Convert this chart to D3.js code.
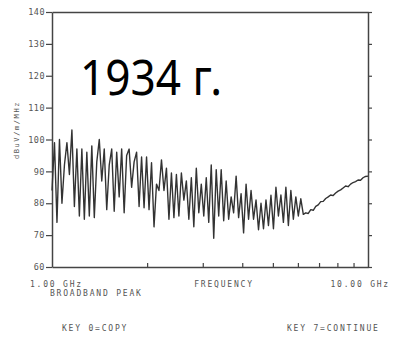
<!DOCTYPE html>
<html>
<head>
<meta charset="utf-8">
<script src="https://cdn.jsdelivr.net/npm/d3@7"></script>
<style>
  html, body { margin: 0; padding: 0; background: #fff; }
  svg { display: block; }
  .lbl { font-family: "DejaVu Sans Mono", monospace; fill: #555; }
</style>
</head>
<body>
<div id="chart"></div>
<script>
// display limits of the analyser screen
const freqRange = [1, 10];          // GHz, log axis
const levelRange = [60, 140];       // dBuV/m/MHz
const levelTicks = [60, 70, 80, 90, 100, 110, 120, 130, 140];
const freqTicks = [2, 3, 4, 5, 6, 7, 8, 9];

// broadband peak trace, one reading per sweep point
const level = [
  84, 99, 74, 100, 80, 92, 99, 89, 103, 79,
  97, 76, 97, 75, 96, 76, 98, 75.5, 93, 100,
  87, 97, 78, 92, 97, 77.5, 96, 82, 97, 77,
  95, 97, 85, 93, 96, 79, 94.5, 78.6, 94.5, 78,
  92.7, 72.6, 86, 84, 93.6, 84, 91, 75, 89.5, 75.5,
  89, 76, 89.5, 81, 87, 75, 88, 72.6, 91, 77,
  86, 76, 88, 74, 92, 69, 90.5, 76, 90.5, 74.5,
  87, 75, 82, 77, 88.5, 75.5, 83, 70.7, 86, 75,
  84, 75, 81, 71.7, 80, 72, 81, 73, 82.5, 72,
  85, 76, 82.6, 74, 85, 73, 84, 75, 82, 76,
  81.4, 76.5, 77, 76.8, 78, 77.8, 79, 79.5, 80.5, 80.6,
  81.5, 82, 82.6, 82.4, 83.2, 83.8, 84.2, 84.8, 85.4, 85.2,
  86, 86.5, 86.8, 87.3, 87.2, 88, 88.4, 88.5
];

const W = 402, H = 338;
const plot = { left: 52, right: 368, top: 12, bottom: 267 };

const svg = d3.select("#chart").append("svg")
  .attr("width", W)
  .attr("height", H);

const x = d3.scaleLog().domain(freqRange).range([plot.left, plot.right]);
const y = d3.scaleLinear().domain(levelRange).range([plot.bottom, plot.top]);

// sweep points are spread evenly across the log display
const points = level.map((v, i) => ({
  f: Math.pow(10, i / (level.length - 1)),
  v: v
}));

// axes
const axisColor = "#444";

const axLeft = svg.append("g")
  .attr("transform", `translate(${plot.left},0)`)
  .call(d3.axisLeft(y).tickValues(levelTicks).tickSize(6).tickSizeOuter(0).tickPadding(1));

const axRight = svg.append("g")
  .attr("transform", `translate(${plot.right},0)`)
  .call(d3.axisRight(y).tickValues(levelTicks).tickSize(4).tickSizeOuter(0).tickFormat(""));

const axBottom = svg.append("g")
  .attr("transform", `translate(0,${plot.bottom})`)
  .call(d3.axisBottom(x).tickValues(freqTicks).tickSizeInner(-4).tickSizeOuter(0).tickFormat(""));

const axTop = svg.append("g")
  .attr("transform", `translate(0,${plot.top})`)
  .call(d3.axisTop(x).tickValues([]).tickSizeOuter(0));

[axLeft, axRight, axBottom, axTop].forEach(g => {
  g.select(".domain").attr("stroke", axisColor).attr("stroke-width", 1.5);
  g.selectAll(".tick line").attr("stroke", axisColor).attr("stroke-width", 1.2);
});

axLeft.selectAll(".tick text")
  .attr("class", "lbl")
  .attr("font-size", 8.5)
  .attr("letter-spacing", 0.5)
  .attr("fill", "#4a4a4a");

// trace
const line = d3.line()
  .x(d => x(d.f))
  .y(d => y(d.v));

svg.append("path")
  .datum(points)
  .attr("fill", "none")
  .attr("stroke", "#333")
  .attr("stroke-width", 1.4)
  .attr("stroke-linejoin", "round")
  .attr("d", line);

// labels
svg.append("text")
  .attr("class", "lbl")
  .attr("transform", `translate(19,130) rotate(-90)`)
  .attr("text-anchor", "middle")
  .attr("font-size", 7)
  .attr("letter-spacing", 1.6)
  .text("dBuV/m/MHz");

const labels = [
  { t: "1.00 GHz", x: 30, y: 287, a: "start" },
  { t: "FREQUENCY", x: 224, y: 287, a: "middle" },
  { t: "10.00 GHz", x: 390, y: 287, a: "end" },
  { t: "BROADBAND PEAK", x: 50, y: 296, a: "start" },
  { t: "KEY 0=COPY", x: 62, y: 331, a: "start" },
  { t: "KEY 7=CONTINUE", x: 287, y: 331, a: "start" }
];

svg.selectAll("text.bottomlbl")
  .data(labels)
  .enter()
  .append("text")
  .attr("class", "lbl bottomlbl")
  .attr("x", d => d.x)
  .attr("y", d => d.y)
  .attr("text-anchor", d => d.a)
  .attr("font-size", 8)
  .attr("letter-spacing", 1.8)
  .text(d => d.t);

// year overlay
svg.append("text")
  .attr("x", 80)
  .attr("y", 95)
  .attr("font-family", "'Noto Sans', sans-serif")
  .attr("font-size", 49)
  .attr("fill", "#000")
  .attr("textLength", 142)
  .attr("lengthAdjust", "spacingAndGlyphs")
  .text("1934 г.");
</script>
</body>
</html>
